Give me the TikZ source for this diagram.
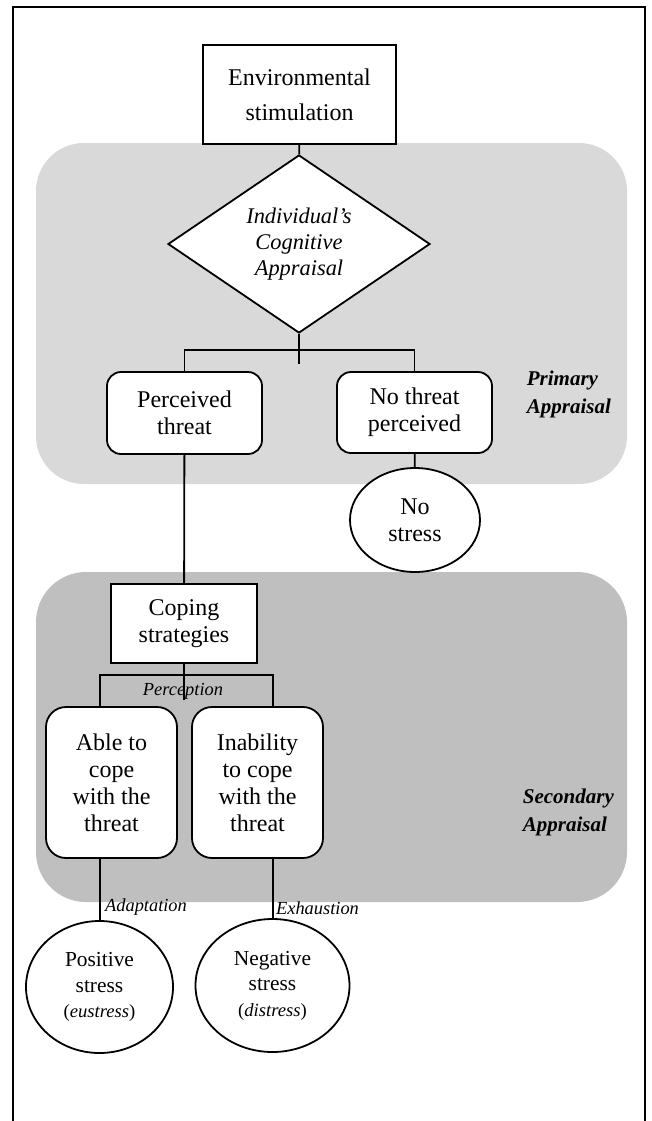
\documentclass[tikz,border=0pt]{standalone}
\usepackage{fontspec}
\setmainfont{Liberation Serif}
\usetikzlibrary{shapes.geometric}
\definecolor{lightreg}{HTML}{D9D9D9}
\definecolor{darkreg}{HTML}{BFBFBF}
\begin{document}
\begin{tikzpicture}[x=0.5pt,y=-0.5pt,
  line width=0.9pt,
  sqbox/.style={draw, fill=white, rectangle, inner sep=0pt, align=center, font=\fontsize{12}{13.5}\selectfont},
  rbox/.style={sqbox, rounded corners=7pt},
  oval/.style={draw, fill=white, ellipse, inner sep=0pt, align=center, font=\fontsize{10.7}{12.8}\selectfont},
  lbl/.style={font=\fontsize{9.2}{11}\selectfont\itshape, inner sep=0pt},
  region/.style={font=\fontsize{10.5}{14}\selectfont\bfseries\itshape, align=left, anchor=west, inner sep=0pt}
]
\useasboundingbox (0,0) rectangle (652,1121);
% shaded appraisal areas
\fill[lightreg, rounded corners=24pt] (36,143) rectangle (627,484);
\fill[darkreg, rounded corners=25pt] (36,572) rectangle (627,902);
% frame (open at bottom)
\draw (13,1121) -- (13,7) -- (645,7) -- (645,1121);

% nodes
\node[sqbox, minimum width=96.5pt, minimum height=49.5pt, font=\fontsize{12}{17.5}\selectfont] (env) at (299.5,94.5) {Environmental\\stimulation};
\node[draw, fill=white, diamond, aspect=1.47, minimum width=131pt, minimum height=89pt, inner sep=0pt, align=center, font=\fontsize{11.2}{13}\selectfont\itshape] (cog) at (299,244) {Individual’s\\Cognitive\\Appraisal};
\node[rbox, minimum width=77.5pt, minimum height=41pt] (perc) at (184.5,413) {Perceived\\threat};
\node[rbox, minimum width=77.5pt, minimum height=40.5pt] (nothr) at (414.5,412.5) {No threat\\perceived};
\node[oval, minimum width=65pt, minimum height=52pt, font=\fontsize{12}{13.5}\selectfont] (nostr) at (415,520) {No\\stress};
\node[sqbox, minimum width=73pt, minimum height=39.5pt] (cope) at (184,623.5) {Coping\\strategies};
\node[rbox, rounded corners=10pt, minimum width=65.5pt, minimum height=75.5pt] (able) at (111.5,782.5) {Able to\\cope\\with the\\threat};
\node[rbox, rounded corners=10pt, minimum width=65.5pt, minimum height=75.5pt] (unable) at (257.5,782.5) {Inability\\to cope\\with the\\threat};
\node[oval, minimum width=73.5pt, minimum height=66pt] (pos) at (99.5,987) {Positive\\stress\\{\fontsize{9.3}{12}\selectfont(\textit{eustress})}};
\node[oval, minimum width=77pt, minimum height=66.5pt] (neg) at (272.5,985.5) {Negative\\stress\\{\fontsize{9.3}{12}\selectfont(\textit{distress})}};

% region labels
\node[region] (prim) at (526,394.5) {Primary\\Appraisal};
\node[region] (sec) at (522,812) {Secondary\\Appraisal};

% connectors
\coordinate (cogstub) at (299,364);
\coordinate (copestub) at (184,700);
\draw (env) -- (cog);
\draw (cog.south) -- (cogstub);
\draw (perc.north) -- ++(0,-21) -| (nothr.north);
\draw (nothr) -- (nostr);
\draw (perc) -- (cope);
\draw (cope.south) -- (copestub);
\draw ([xshift=-5.75pt]able.north) -- ++(0,-31) -| ([xshift=7.75pt]unable.north);
\draw ([xshift=-5.75pt]able.south) -- ([xshift=-5.75pt]able.south |- pos.north);
\draw ([xshift=7.75pt]unable.south) -- ([xshift=7.75pt]unable.south |- neg.north);

% connector labels
\node[lbl] (percep) at (183,691) {Perception};
\node[lbl] (adapt) at (146,907) {Adaptation};
\node[lbl] (exh) at (317.5,908) {Exhaustion};
\end{tikzpicture}
\end{document}
